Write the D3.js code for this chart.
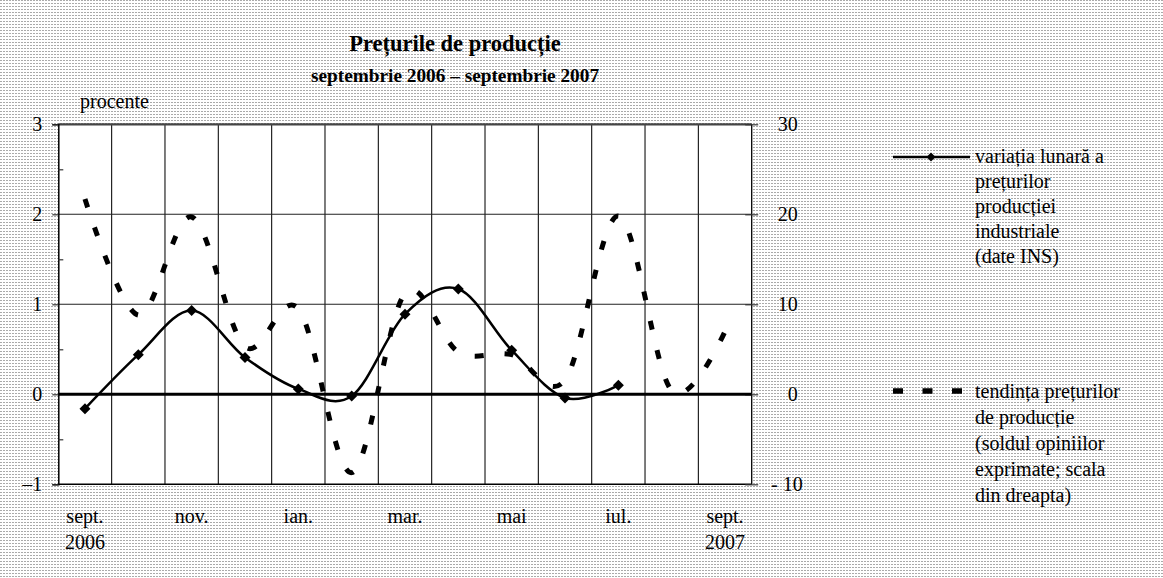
<!DOCTYPE html>
<html>
<head>
<meta charset="utf-8">
<script src="https://cdn.jsdelivr.net/npm/d3@7"></script>
<style>
  html, body { margin: 0; padding: 0; background: #fff; }
  svg { display: block; }
  svg text { font-family: "Liberation Serif", "Times New Roman", Times, serif !important; fill: #000; }
</style>
</head>
<body>
<svg id="chart" width="1163" height="578"></svg>
<script>
// ---------- data ----------
const months = ["sep 2006","oct 2006","nov 2006","dec 2006","ian 2007","feb 2007","mar 2007",
                "apr 2007","mai 2007","iun 2007","iul 2007","aug 2007","sep 2007"];
const monthLabels = ["sept.","","nov.","","ian.","","mar.","","mai","","iul.","","sept."];
const yearLabels  = ["2006","","","","","","","","","","","","2007"];

// monthly variation of industrial producer prices (left scale, %), sept 2006 - iul 2007
const monthlyVariation = [-0.16, 0.44, 0.93, 0.41, 0.06, -0.02, 0.89, 1.17, 0.49, -0.04, 0.10];
// producer price tendency (balance of opinions, right scale), sept 2006 - sept 2007
const priceTrend = [21.7, 8.8, 19.7, 5.3, 9.5, -8.7, 11.2, 4.7, 4.4, 1.6, 19.8, 0.4, 7.0];

const leftTicks = [-1, 0, 1, 2, 3];
const leftTickLabels = ["\u20131", "0", "1", "2", "3"];
const leftMinorTicks = [-0.5, 0.5, 1.5, 2.5];
const rightTicks = [-10, 0, 10, 20, 30];
const rightTickLabels = ["- 10", "0", "10", "20", "30"];

const titleLines = ["Prețurile de producție", "septembrie 2006 – septembrie 2007"];
const unitLabel = "procente";
const legend1Lines = ["variația lunară a", "prețurilor", "producției", "industriale", "(date INS)"];
const legend2Lines = ["tendința prețurilor", "de producție", "(soldul opiniilor", "exprimate; scala", "din dreapta)"];

// ---------- layout ----------
const W = 1163, H = 578;
const L = 58.3, R = 751.7, T = 124.3, B = 484.3;
const FONT = "Liberation Serif, Times New Roman, serif";
const svg = d3.select("#chart").attr("font-family", FONT);

const defs = svg.append("defs");
const pat = defs.append("pattern").attr("id", "dots").attr("width", 3).attr("height", 3)
  .attr("patternUnits", "userSpaceOnUse");
pat.append("rect").attr("width", 3).attr("height", 3).attr("fill", "#fff");
pat.append("rect").attr("width", 2).attr("height", 1).attr("fill", "#aaaaaa");

svg.append("rect").attr("width", W).attr("height", H).attr("fill", "url(#dots)");

const x = d3.scaleBand().domain(months).range([L, R]).padding(0);
const cx = m => x(m) + x.bandwidth() / 2;
const yL = d3.scaleLinear().domain([-1, 3]).range([B, T]);
const yR = d3.scaleLinear().domain([-10, 30]).range([B, T]);

// plot area
svg.append("rect").attr("x", L).attr("y", T).attr("width", R - L).attr("height", B - T).attr("fill", "#fff");

// vertical gridlines at month boundaries
svg.append("g").selectAll("line").data(months.slice(1)).join("line")
  .attr("x1", d => x(d)).attr("x2", d => x(d)).attr("y1", T).attr("y2", B)
  .attr("stroke", "#111").attr("stroke-width", 1.1);

// horizontal gridlines
svg.append("g").selectAll("line").data([1, 2]).join("line")
  .attr("x1", L).attr("x2", R).attr("y1", d => yL(d)).attr("y2", d => yL(d))
  .attr("stroke", "#222").attr("stroke-width", 1.1);

// borders
svg.append("line").attr("x1", L).attr("x2", R).attr("y1", yL(3)).attr("y2", yL(3))
  .attr("stroke", "#444").attr("stroke-width", 2.2);
svg.append("line").attr("x1", L).attr("x2", R).attr("y1", B).attr("y2", B)
  .attr("stroke", "#000").attr("stroke-width", 1.6);
svg.append("line").attr("x1", R).attr("x2", R).attr("y1", T).attr("y2", B)
  .attr("stroke", "#000").attr("stroke-width", 1.3);

// left axis
const axL = svg.append("g").attr("transform", `translate(${L},0)`)
  .call(d3.axisLeft(yL).tickValues(leftTicks).tickSize(6).tickPadding(10)
    .tickFormat((d, i) => leftTickLabels[i]));
axL.attr("font-family", FONT).attr("font-size", 20);
axL.select(".domain").attr("stroke", "#000").attr("stroke-width", 1.5);
axL.selectAll(".tick line").attr("stroke", "#333").attr("stroke-width", 1.2);
axL.selectAll("text").attr("fill", "#000");
const axLm = svg.append("g").attr("transform", `translate(${L},0)`)
  .call(d3.axisLeft(yL).tickValues(leftMinorTicks).tickSize(-5).tickFormat(""));
axLm.select(".domain").remove();
axLm.selectAll(".tick line").attr("stroke", "#333").attr("stroke-width", 1.2);

// right axis
const axR = svg.append("g").attr("transform", `translate(${R},0)`)
  .call(d3.axisRight(yR).tickValues(rightTicks).tickSize(6.5)
    .tickFormat((d, i) => rightTickLabels[i]));
axR.attr("font-family", FONT).attr("font-size", 20);
axR.select(".domain").remove();
axR.selectAll(".tick line").attr("x1", -6.5).attr("stroke", "#333").attr("stroke-width", 1.2);
axR.selectAll("text").attr("fill", "#000")
  .attr("text-anchor", "end").attr("x", d => d < 0 ? 51 : 46);

// zero line
svg.append("line").attr("x1", L).attr("x2", R).attr("y1", yL(0)).attr("y2", yL(0))
  .attr("stroke", "#000").attr("stroke-width", 3);

// x labels
svg.append("g").selectAll("text").data(months).join("text")
  .attr("x", d => cx(d)).attr("y", 523).attr("text-anchor", "middle").attr("font-size", 20)
  .text((d, i) => monthLabels[i]);
svg.append("g").selectAll("text").data(months).join("text")
  .attr("x", d => cx(d)).attr("y", 549).attr("text-anchor", "middle").attr("font-size", 20)
  .text((d, i) => yearLabels[i]);

// dashed series (right scale)
const trendLine = d3.line().x((d, i) => cx(months[i])).y(d => yR(d)).curve(d3.curveCardinal.tension(0));
svg.append("path").datum(priceTrend).attr("d", trendLine)
  .attr("fill", "none").attr("stroke", "#000").attr("stroke-width", 5)
  .attr("stroke-dasharray", "9 21");

// solid series (left scale)
const varLine = d3.line().x((d, i) => cx(months[i])).y(d => yL(d)).curve(d3.curveCardinal.tension(0));
svg.append("path").datum(monthlyVariation).attr("d", varLine)
  .attr("fill", "none").attr("stroke", "#000").attr("stroke-width", 2.5);
const diamond = "M0,-5.5L5.5,0L0,5.5L-5.5,0Z";
svg.append("g").selectAll("path").data(monthlyVariation).join("path")
  .attr("transform", (d, i) => `translate(${cx(months[i])},${yL(d)})`)
  .attr("d", diamond).attr("fill", "#000");

// title
svg.append("text").attr("x", 455).attr("y", 51).attr("text-anchor", "middle")
  .attr("font-size", 22.5).attr("font-weight", "bold").text(titleLines[0]);
svg.append("text").attr("x", 455).attr("y", 82).attr("text-anchor", "middle")
  .attr("font-size", 19.3).attr("font-weight", "bold").text(titleLines[1]);

svg.append("text").attr("x", 80).attr("y", 108).attr("font-size", 20).text(unitLabel);

// legend 1
svg.append("line").attr("x1", 893).attr("x2", 970).attr("y1", 157).attr("y2", 157)
  .attr("stroke", "#000").attr("stroke-width", 2.5);
svg.append("path").attr("transform", "translate(931,157)").attr("d", "M0,-4.5L4.5,0L0,4.5L-4.5,0Z").attr("fill", "#000");
svg.append("g").selectAll("text").data(legend1Lines).join("text")
  .attr("x", 975).attr("y", (d, i) => 163 + i * 25).attr("font-size", 20).text(d => d);

// legend 2
svg.append("line").attr("x1", 893).attr("x2", 962).attr("y1", 391).attr("y2", 391)
  .attr("stroke", "#000").attr("stroke-width", 5.5).attr("stroke-dasharray", "10 19.5");
svg.append("g").selectAll("text").data(legend2Lines).join("text")
  .attr("x", 975).attr("y", (d, i) => 398 + i * 26).attr("font-size", 20).text(d => d);
</script>
</body>
</html>
